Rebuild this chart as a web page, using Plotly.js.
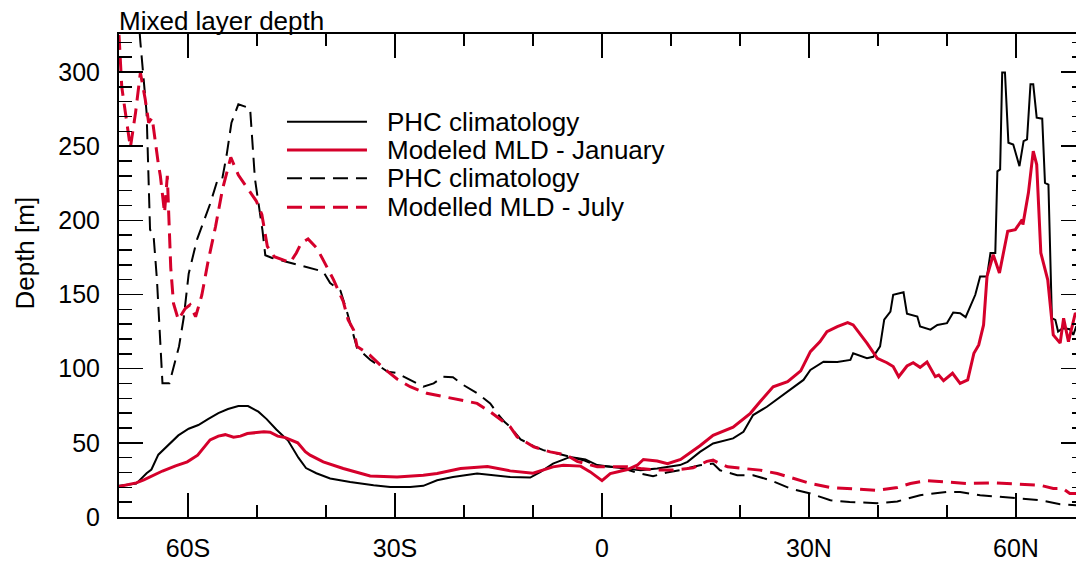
<!DOCTYPE html>
<html>
<head>
<meta charset="utf-8">
<script src="https://cdn.plot.ly/plotly-3.0.1.min.js"></script>
<style>
  html, body { margin: 0; padding: 0; overflow: hidden; background: #fff; }
  #chart { width: 1086px; height: 562px; }
</style>
</head>
<body>
<div id="chart"></div>
<script>
// Zonal-mean mixed layer depth (m) against latitude (negative = south)

// PHC climatology, January
const latPhcJan = [-70.0, -67.5, -66.0, -65.3, -64.3, -62.8, -61.4, -59.9, -58.5, -57.1, -55.6, -54.2, -52.7, -51.3, -49.8, -48.6, -47.2, -45.5, -44.0, -42.9, -41.4, -39.4, -36.5, -33.1, -30.7, -27.8, -25.9, -23.9, -21.6, -18.1, -16.2, -13.3, -10.4, -8.9, -7.1, -4.6, -2.4, -0.7, 1.2, 3.7, 5.6, 8.0, 10.3, 11.3, 12.4, 14.2, 16.1, 17.1, 19.0, 20.5, 21.9, 23.9, 25.9, 27.7, 29.2, 30.2, 32.1, 34.1, 36.0, 36.4, 38.4, 39.3, 40.3, 40.9, 41.8, 42.2, 43.7, 44.2, 45.7, 46.1, 47.6, 48.6, 50.0, 50.9, 51.9, 52.7, 53.4, 54.1, 54.8, 55.8, 56.3, 57.0, 57.3, 57.7, 58.0, 58.4, 58.9, 59.6, 60.5, 61.1, 61.6, 62.1, 62.5, 63.0, 63.8, 64.2, 64.7, 65.2, 65.7, 66.1, 66.8, 67.8, 68.3, 68.7, 70.0];
const phcJan = [21, 22.5, 29.5, 32, 42, 48.5, 55, 59.5, 62, 66, 70, 72.8, 74.8, 74.8, 71, 66, 59, 51.5, 40, 33, 29.5, 26, 23.6, 21.4, 20.3, 20.3, 21, 24.8, 27, 29.3, 28.2, 27, 26.6, 30.4, 36, 40.5, 38.8, 35, 33.8, 32.7, 31.6, 32.7, 34.3, 35, 37.2, 43.9, 49.6, 50.7, 53, 57.4, 68.7, 74.3, 81, 86.8, 92.4, 99.1, 104.7, 104.5, 105.9, 110.4, 107, 108, 115, 133, 138.5, 149.8, 151.5, 137, 135.1, 128.4, 126.3, 129.5, 130.7, 137.8, 137.4, 134.7, 141.9, 149.8, 162.2, 162.2, 178, 178, 233, 234.3, 299.6, 299.6, 252.3, 251.1, 236.5, 253.4, 254.5, 291.7, 291.7, 269.2, 268.5, 225.3, 224.1, 134, 132.9, 125, 127.3, 126.6, 122.8, 128, 126];

// Modeled MLD, January
const latModJan = [-70.0, -67.5, -66.4, -65.7, -63.7, -61.8, -60.1, -58.6, -57.8, -56.8, -55.6, -54.6, -53.4, -52.4, -51.4, -49.0, -48.1, -47.0, -45.9, -44.1, -43.0, -42.3, -40.4, -37.5, -33.6, -29.7, -25.9, -23.9, -20.5, -16.6, -13.3, -10.0, -7.1, -5.6, -3.1, -1.7, 0.0, 1.2, 3.7, 5.1, 6.0, 8.0, 9.5, 11.4, 14.2, 16.1, 19.0, 21.5, 22.9, 24.8, 26.9, 28.8, 30.2, 31.6, 32.6, 34.1, 35.6, 36.4, 38.4, 39.9, 41.3, 42.2, 43.0, 44.2, 45.1, 46.1, 47.1, 48.3, 48.8, 49.5, 50.8, 51.9, 53.0, 53.9, 54.6, 55.3, 55.8, 56.7, 57.6, 58.8, 59.9, 60.9, 61.0, 61.8, 62.5, 63.0, 63.6, 64.6, 65.4, 66.4, 66.9, 67.6, 68.6, 70.0];
const modJan = [20.5, 23, 25, 26.5, 31, 34.5, 37.2, 41.7, 46, 52, 54.5, 55.5, 53.8, 54.5, 56.3, 57.4, 57.2, 54.5, 53.5, 50, 44, 41.7, 37.2, 32.7, 27.6, 27, 28.2, 29.3, 32.7, 34, 31.1, 29.5, 33.8, 34.9, 34.3, 30.4, 24.5, 29.3, 32, 34.9, 38.8, 37.8, 36, 38.8, 48, 55, 60.5, 69.9, 77.7, 87.8, 91.2, 98.5, 111.5, 118.2, 125, 128.4, 131.1, 129.5, 117.2, 107, 104, 101.4, 94.6, 101.8, 104, 100.9, 104.5, 94.6, 95.7, 91.9, 96.9, 90.1, 92.4, 110.4, 116, 129.5, 162.2, 176.8, 164.5, 192.6, 193.7, 200.5, 197.1, 218.5, 246.6, 237.6, 178, 159.9, 122.8, 117.2, 134, 118.2, 137.4, 130];

// PHC climatology, July
const latPhcJul = [-70.0, -67.3, -66.9, -66.4, -66.0, -65.5, -65.0, -64.5, -63.7, -62.7, -62.0, -61.3, -60.6, -59.9, -58.7, -57.7, -56.8, -55.8, -55.1, -54.4, -53.7, -52.7, -51.0, -50.3, -49.2, -48.8, -47.8, -45.9, -44.5, -43.0, -41.4, -40.4, -39.4, -37.9, -36.9, -36.2, -35.5, -33.6, -31.1, -29.7, -27.8, -25.9, -24.4, -23.0, -21.6, -20.1, -18.1, -16.2, -15.2, -14.1, -13.3, -11.8, -9.9, -8.5, -6.5, -4.6, -2.7, -0.7, 1.6, 3.6, 5.5, 7.4, 9.4, 11.3, 14.2, 16.1, 17.1, 19.6, 21.9, 24.4, 27.3, 30.2, 33.1, 35.9, 39.9, 42.8, 46.1, 50.0, 51.9, 54.8, 57.7, 60.6, 63.5, 66.4, 68.7, 70.0];
const phcJul = [345, 345, 320, 295, 272.6, 193.7, 190.3, 160, 90.1, 90.1, 103, 115, 135, 164, 187, 200, 211, 226, 226.4, 244, 265.8, 278.2, 275.5, 228, 193, 176.5, 174.6, 172.3, 170.5, 168.5, 166.5, 165.5, 157.7, 152.5, 137.4, 126, 114, 106, 98, 97, 92.4, 87.8, 90.1, 94.6, 94.2, 89, 83.4, 76.6, 70, 64, 60.8, 52.3, 47.8, 45.1, 42.8, 40.5, 38.3, 34.5, 33.8, 32, 29.3, 27.5, 30, 31.6, 34.9, 36, 31.5, 28.2, 28.2, 24.8, 19.2, 15.8, 11.3, 10.1, 9.3, 10.5, 14.7, 16.9, 16.9, 14.7, 13.5, 12.4, 11.3, 8.6, 7.9, 7.5];

// Modelled MLD, July
const latModJul = [-70.0, -69.6, -69.3, -68.6, -68.35, -67.6, -66.9, -66.2, -65.7, -65.2, -64.7, -64.3, -64.0, -63.4, -63.0, -62.5, -62.1, -61.4, -60.4, -59.7, -58.9, -58.0, -57.1, -56.0, -55.0, -53.8, -52.7, -51.4, -50.1, -49.3, -48.5, -47.5, -46.3, -45.2, -44.3, -43.6, -42.6, -41.3, -40.3, -38.9, -37.5, -36.8, -36.0, -35.5, -33.6, -31.7, -29.7, -27.8, -25.4, -23.0, -20.5, -18.1, -16.2, -14.3, -13.3, -12.3, -9.9, -7.5, -5.1, -3.6, -0.7, 1.7, 3.7, 5.6, 8.0, 10.3, 13.2, 15.2, 16.1, 17.1, 18.2, 20.5, 22.9, 25.4, 27.8, 30.2, 33.1, 36.0, 39.9, 42.8, 44.7, 47.1, 50.0, 52.9, 56.8, 60.6, 63.5, 65.4, 66.8, 67.8, 68.7, 70.0];
const modJul = [325, 290, 280, 259, 249, 272.6, 299.6, 281.6, 265.8, 269.2, 250, 238, 229.7, 205, 230, 168, 144, 133, 140.5, 143, 135, 149.5, 172, 196, 221, 242.5, 230.5, 222, 213, 204, 182.4, 175.5, 173.4, 171.5, 178, 184.5, 187.5, 181, 172.3, 159.9, 145.3, 133, 126.1, 115, 109, 100.5, 93, 87.8, 83.4, 81, 78.9, 76.6, 70.9, 64.2, 60.8, 54, 47.3, 43.9, 41.7, 37.5, 33.8, 33.8, 33.8, 32.7, 31.6, 31.6, 33.1, 37.5, 38.3, 36, 33.8, 32.7, 31.6, 29.3, 26, 22.6, 19.9, 19.2, 18, 19.9, 22.6, 24.5, 23.6, 22.6, 23, 22.1, 21.4, 19.2, 19.2, 15.8, 15.8, 17];

// Latitude ticks
const latMajorTicks = [-60, -30, 0, 30, 60];
const latMinorTicks = [-50, -40, -20, -10, 10, 20, 40, 50];
const latLabelAlias = {
  '\u221260': '60S', '-60': '60S',
  '\u221230': '30S', '-30': '30S',
  '30': '30N', '60': '60N'
};

// Legend entries
const legendLabels = ['PHC climatology', 'Modeled MLD - January', 'PHC climatology', 'Modelled MLD - July'];

const RED = '#d5002b';
const FONT = '"Liberation Sans", Arial, Helvetica, sans-serif';
const DASH = '15px,8px';
const Y_RANGE = [0, 325.6];
const PLOT_H = 483;                            // plot-area height in px
const PX = (Y_RANGE[1] - Y_RANGE[0]) / PLOT_H; // depth units per pixel

const styles = [
  { color: 'black', width: 2, dash: 'solid' },
  { color: RED, width: 3, dash: 'solid' },
  { color: 'black', width: 2, dash: DASH },
  { color: RED, width: 3, dash: DASH }
];

const series = [
  [latPhcJan, phcJan],
  [latModJan, modJan],
  [latPhcJul, phcJul],
  [latModJul, modJul]
];

// Black curves first so the red model curves sit on top
const drawOrder = [0, 2, 1, 3];
const traces = drawOrder.map(i => ({
  type: 'scatter',
  mode: 'lines',
  x: series[i][0],
  y: series[i][1],
  name: legendLabels[i],
  line: { color: styles[i].color, width: styles[i].width, dash: styles[i].dash },
  hoverinfo: 'skip',
  showlegend: false
}));

// Inward latitude tick marks on the bottom and top frame, as one segmented line
const tickX = [];
const tickY = [];
function addLatTick(v, lenPx) {
  const len = lenPx * PX;
  tickX.push(v, v, null, v, v, null);
  tickY.push(Y_RANGE[0], Y_RANGE[0] + len, null, Y_RANGE[1], Y_RANGE[1] - len, null);
}
latMajorTicks.forEach(v => addLatTick(v, 24));
latMinorTicks.forEach(v => addLatTick(v, 12));
traces.push({
  type: 'scatter', mode: 'lines', x: tickX, y: tickY,
  line: { color: 'black', width: 1.5 }, connectgaps: false,
  hoverinfo: 'skip', showlegend: false
});

// Hand-built legend block inside the plot area
const legendRowsY = [0.8184, 0.7598, 0.7012, 0.6412];
const legendLineX = [0.1739, 0.2567];
const legendTextX = 0.2754;

const shapes = legendLabels.map((lbl, i) => ({
  type: 'line', xref: 'paper', yref: 'paper',
  x0: legendLineX[0], x1: legendLineX[1], y0: legendRowsY[i], y1: legendRowsY[i],
  line: { color: styles[i].color, width: styles[i].width, dash: styles[i].dash }
}));

const annotations = legendLabels.map((lbl, i) => ({
  xref: 'paper', yref: 'paper', x: legendTextX, y: legendRowsY[i],
  xanchor: 'left', yanchor: 'middle', text: lbl, showarrow: false,
  font: { family: FONT, size: 26, color: 'black' }
}));

annotations.push({
  xref: 'paper', yref: 'paper', x: -0.0983, y: 0.5455,
  xanchor: 'center', yanchor: 'middle', textangle: -90,
  text: 'Depth [m]', showarrow: false,
  font: { family: FONT, size: 26, color: 'black' }
});

const layout = {
  width: 1086, height: 562,
  margin: { l: 119, r: 1, t: 34, b: 45 },
  paper_bgcolor: 'white', plot_bgcolor: 'white',
  showlegend: false,
  title: {
    text: 'Mixed layer depth',
    xref: 'paper', x: 0, xanchor: 'left',
    yref: 'container', y: 1 - 21 / 562, yanchor: 'middle',
    font: { family: FONT, size: 26, color: 'black' }
  },
  xaxis: {
    range: [-70, 70],
    tickmode: 'linear', tick0: 0, dtick: 30,
    labelalias: latLabelAlias,
    ticks: 'inside', ticklen: 24, tickwidth: 1.5, tickcolor: 'black',
    showline: true, linewidth: 2, linecolor: 'black', mirror: 'allticks',
    showgrid: false, zeroline: false,
    tickfont: { family: FONT, size: 25, color: 'black' },
    ticklabelstandoff: 8,
    minor: { tick0: 0, dtick: 10, ticks: 'inside', ticklen: 12, tickwidth: 1.5, tickcolor: 'black', showgrid: false }
  },
  yaxis: {
    range: Y_RANGE,
    tickmode: 'linear', tick0: 0, dtick: 50,
    ticks: 'inside', ticklen: 24, tickwidth: 1.5, tickcolor: 'black',
    showline: true, linewidth: 2, linecolor: 'black', mirror: 'allticks',
    showgrid: false, zeroline: false,
    tickfont: { family: FONT, size: 25, color: 'black' },
    ticklabelstandoff: 12,
    minor: { tick0: 0, dtick: 10, ticks: 'inside', ticklen: 13, tickwidth: 1.5, tickcolor: 'black', showgrid: false }
  },
  shapes: shapes,
  annotations: annotations
};

Plotly.newPlot('chart', traces, layout, { displayModeBar: false, staticPlot: true });
</script>
</body>
</html>
